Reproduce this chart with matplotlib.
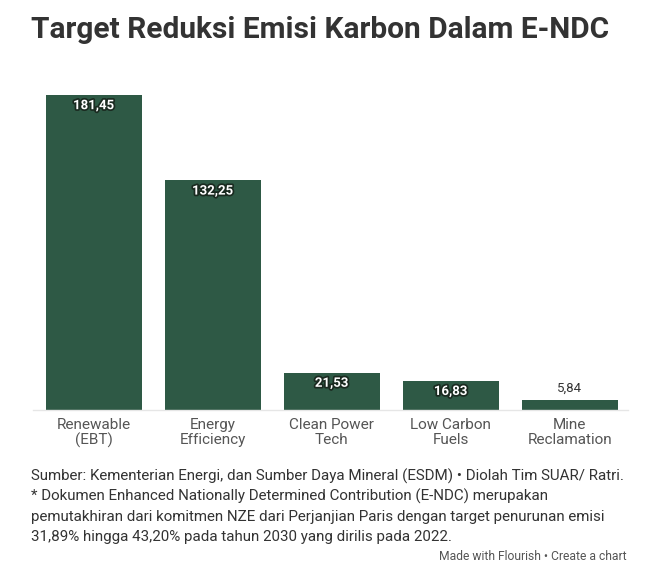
import matplotlib
matplotlib.use("Agg")
import matplotlib.pyplot as plt
import matplotlib.patheffects as pe

categories = ["Renewable\n(EBT)", "Energy\nEfficiency", "Clean Power\nTech", "Low Carbon\nFuels", "Mine\nReclamation"]
values = [181.45, 132.25, 21.53, 16.83, 5.84]
labels = ["181,45", "132,25", "21,53", "16,83", "5,84"]

W, H = 657, 573
fig = plt.figure(figsize=(W/100, H/100), dpi=100)
fig.patch.set_facecolor("white")
plt.rcParams['font.family'] = ['Roboto', 'DejaVu Sans']

ax = fig.add_axes([33/W, 1-410/H, (628-33)/W, (410-95)/H])
bar_color = "#2e5945"
x = list(range(len(values)))
bars = ax.bar(x, values, width=0.806, color=bar_color, zorder=2)
ax.set_xlim(-0.51, 4.49)
ax.set_ylim(0, 181.45)
for s in ["top", "right", "left"]:
    ax.spines[s].set_visible(False)
ax.spines["bottom"].set_color("#e6e6e6")
ax.spines["bottom"].set_linewidth(1)
ax.set_yticks([])
ax.set_xticks(x)
ax.set_xticklabels(categories, fontsize=11, color="#555555", linespacing=1.05)
ax.tick_params(axis="x", length=0, pad=6)

for xi, v, lab in zip(x, values, labels):
    if v > 10:
        ax.annotate(lab, (xi, v), xytext=(0, -3), textcoords="offset points",
                    ha="center", va="top", fontsize=9.5, fontweight="bold", color="white",
                    path_effects=[pe.withStroke(linewidth=2.5, foreground="#1a2a20")])
    else:
        ax.annotate(lab, (xi, v), xytext=(0, 4), textcoords="offset points",
                    ha="center", va="bottom", fontsize=9.5, color="#333333")

fig.text(31/W, 1-30/H, "Target Reduksi Emisi Karbon Dalam E-NDC", fontsize=21.5,
         fontweight="bold", color="#333333", ha="left", va="center")

foot = ["Sumber: Kementerian Energi, dan Sumber Daya Mineral (ESDM) \u2022 Diolah Tim SUAR/ Ratri.",
        "* Dokumen Enhanced Nationally Determined Contribution (E-NDC) merupakan",
        "pemutakhiran dari komitmen NZE dari Perjanjian Paris dengan target penurunan emisi",
        "31,89% hingga 43,20% pada tahun 2030 yang dirilis pada 2022."]
ys = [476, 496, 517, 537]
for t, y in zip(foot, ys):
    fig.text(31/W, 1-y/H, t, fontsize=10.9, color="#333333", ha="left", va="center")

fig.text(627/W, 1-556/H, "Made with Flourish \u2022 Create a chart", fontsize=8.7,
         color="#555555", ha="right", va="center")

fig.savefig("out.png", dpi=100)
